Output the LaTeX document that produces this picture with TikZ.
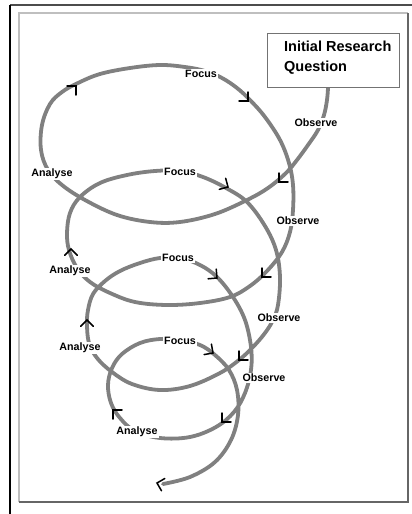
\documentclass[tikz,border=0pt]{standalone}
\usepackage{fontspec}
\setmainfont{Liberation Sans}
\usetikzlibrary{calc}
\begin{document}
\begin{tikzpicture}[x=1pt,y=-1pt,
  spiral/.style={draw=black!50, line width=3.8pt, line cap=round, line join=round},
  headstroke/.style={draw=black, line width=1.5pt, line cap=round, line join=miter},
  lab/.style={fill=white, inner sep=1.2pt, font=\fontsize{10.7}{12}\selectfont\bfseries},
  qbox/.style={draw=black!55, line width=0.9pt, fill=white},
]
\newcommand\sparrow[3]{\draw[headstroke] ($(#1,#2)+(#3+135:9)$) -- (#1,#2) -- ($(#1,#2)+(#3-135:9)$);}
\useasboundingbox (0,0) rectangle (412,514);
\fill[white] (0,0) rectangle (412,514);
% frames
\draw[black!70, line width=1.6pt] (10,5) -- (412,5);
\draw[black, line width=1.2pt] (10,5) -- (10,514);
\draw[black!25, line width=1.5pt] (19,502) -- (19,13) -- (408,13);
\draw[black!60, line width=1.5pt] (408,13) -- (408,502) -- (19,502);
% spiral
\draw[spiral] plot[smooth, tension=0.6] coordinates {
 (328,88) (327,100) (324,115) (318,130) (308,145) (297,160) (286,173)
 (268,188) (247,200) (215,214) (180,222) (150,222) (117,215) (85,200)
 (62,185) (48,170) (41,150) (42,125) (50,104) (62,92) (78,83) (100,74)
 (130,68) (160,65) (185,67) (205,71) (222,78) (237,88) (250,100) (265,117)
 (280,140) (289,163) (293,185) (293,210) (290,232) (282,252) (267,271)
 (250,286) (230,297) (200,303) (167,305) (135,302) (110,293) (90,282)
 (77,268) (69,250) (67,233) (70,213) (80,197) (100,183) (127,175)
 (155,171) (180,171) (203,177) (226,188) (247,202) (265,226) (276,250)
 (280,277) (278,305) (273,320) (265,333) (253,347) (239,360) (220,373)
 (190,386) (160,390) (132,384) (112,372) (97,358) (89,343) (87,325)
 (88,310) (93,294) (105,281) (120,271) (140,263) (160,258) (180,258)
 (200,265) (217,277) (233,297) (245,320) (251,347) (251,370) (245,393)
 (234,412) (216,427) (190,437) (160,438) (135,431) (120,418) (111,403)
 (108,385) (112,368) (122,354) (140,343) (160,339) (180,340) (200,345)
 (215,355) (229,370) (237,390) (238,415) (231,440) (215,462) (190,477)
 (163,484)};
% arrowheads
\sparrow{279}{182}{135}
\sparrow{76}{86}{315}
\sparrow{248}{101}{45}
\sparrow{262}{277}{135}
\sparrow{71}{249}{270}
\sparrow{228}{187}{30}
\sparrow{239}{360}{135}
\sparrow{217}{278}{40}
\sparrow{87}{320}{270}
\sparrow{213}{353}{35}
\sparrow{222}{422}{135}
\sparrow{113}{410}{225}
\sparrow{157}{483}{195}
% labels
\node[lab] (f1) at (201,74) {Focus};
\node[lab] (f2) at (180,172) {Focus};
\node[lab] (f3) at (178,258) {Focus};
\node[lab] (f4) at (180,341) {Focus};
\node[lab] (o1) at (316,123) {Observe};
\node[lab] (o2) at (298,221) {Observe};
\node[lab] (o3) at (279,318) {Observe};
\node[lab] (o4) at (264,378) {Observe};
\node[lab] (a1) at (52,174) {Analyse};
\node[lab] (a2) at (70,271) {Analyse};
\node[lab] (a3) at (80,348) {Analyse};
\node[lab] (a4) at (137,432) {Analyse};
% question box
\node[qbox, minimum width=132pt, minimum height=54pt, inner sep=0pt] (box) at (333,60) {};
\node[anchor=west, align=left, inner sep=0pt, font=\fontsize{14.5}{20}\selectfont\bfseries] (boxtext) at (284,58) {Initial Research\\Question};
\end{tikzpicture}
\end{document}
